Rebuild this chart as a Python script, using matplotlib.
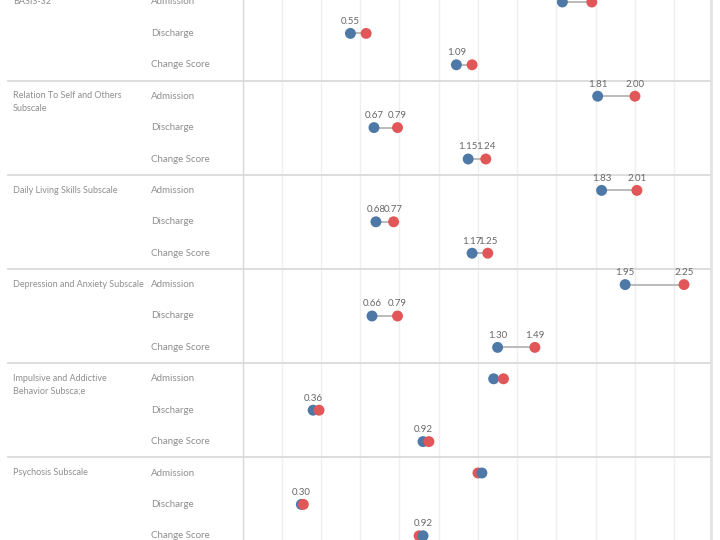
import matplotlib
matplotlib.use('Agg')
import matplotlib.pyplot as plt
import matplotlib.transforms as mtransforms

plt.rcParams['font.family'] = ['Lato', 'DejaVu Sans']

# Scores per measure, one value per row (Admission, Discharge, Change Score)
groups = ['BASIS-32', 'Relation To Self and Others\nSubscale', 'Daily Living Skills Subscale',
          'Depression and Anxiety Subscale', 'Impulsive and Addictive\nBehavior Subsca;e',
          'Psychosis Subscale']
row_names = ['Admission', 'Discharge', 'Change Score']

blue_vals = [1.63, 0.55, 1.09,
             1.81, 0.67, 1.15,
             1.83, 0.68, 1.17,
             1.95, 0.66, 1.30,
             1.28, 0.36, 0.92,
             1.22, 0.30, 0.92]
red_vals = [1.78, 0.63, 1.17,
            2.00, 0.79, 1.24,
            2.01, 0.77, 1.25,
            2.25, 0.79, 1.49,
            1.33, 0.39, 0.95,
            1.20, 0.31, 0.90]

# which labels Tableau kept visible
show_blue = [0, 1, 1, 1, 1, 1, 1, 1, 1, 1, 1, 1, 0, 1, 1, 0, 1, 1]
show_red = [0, 0, 0, 1, 1, 1, 1, 1, 1, 1, 1, 1, 0, 0, 0, 0, 0, 0]

BLUE = '#4e79a7'
RED = '#e15759'
TXT = '#8f8f8f'

fig = plt.figure(figsize=(7.2, 5.4), dpi=100)
ax = fig.add_axes([242.5 / 720, 0, (710.7 - 242.5) / 720, 1])

n = len(blue_vals)
for i in range(n):
    b, r = blue_vals[i], red_vals[i]
    ax.plot([b, r], [i, i], color='#b5b5b5', lw=1.3, zorder=2)
    # the higher value sits on top
    pts = sorted([(b, BLUE), (r, RED)])
    for z, (v, c) in enumerate(pts):
        ax.scatter(v, i, s=62, color=c, edgecolor='none', zorder=3 + z)
    if show_blue[i]:
        ax.annotate('%.2f' % b, (b, i), xytext=(0, 5.5), textcoords='offset points',
                    ha='center', va='bottom', fontsize=7, color='#686868')
    if show_red[i]:
        ax.annotate('%.2f' % r, (r, i), xytext=(0, 5.5), textcoords='offset points',
                    ha='center', va='bottom', fontsize=7, color='#686868')

ax.set_xlim(0, 2.386)
ax.set_ylim(538 / 31.4, -2 / 31.4)
ax.set_xticks([0.2 * k for k in range(1, 12)])
ax.set_yticks([])
ax.tick_params(axis='x', length=0, labelbottom=False)
ax.grid(axis='x', color='#efefef', lw=1)
ax.set_axisbelow(True)
for side in ['top', 'bottom']:
    ax.spines[side].set_visible(False)
ax.spines['left'].set_color('#d9d9d9')
ax.spines['left'].set_linewidth(1)
ax.spines['right'].set_color('#e3e3e3')
ax.spines['right'].set_linewidth(2)

trans = mtransforms.blended_transform_factory(fig.transFigure, ax.transData)

for g, name in enumerate(groups):
    ax.text(13 / 720, g * 3 - 0.15, name, transform=trans, ha='left', va='top',
            fontsize=6.5, color=TXT, linespacing=1.55)
    for k, rn in enumerate(row_names):
        ax.text(151 / 720, g * 3 + k, rn, transform=trans, ha='left', va='center',
                fontsize=7, color=TXT)
    if g > 0:
        ax.plot([8 / 720, 710 / 720], [g * 3 - 0.5, g * 3 - 0.5], transform=trans,
                color='#dadada', lw=1.3, clip_on=False, zorder=1)

fig.savefig('out.png', dpi=100)
